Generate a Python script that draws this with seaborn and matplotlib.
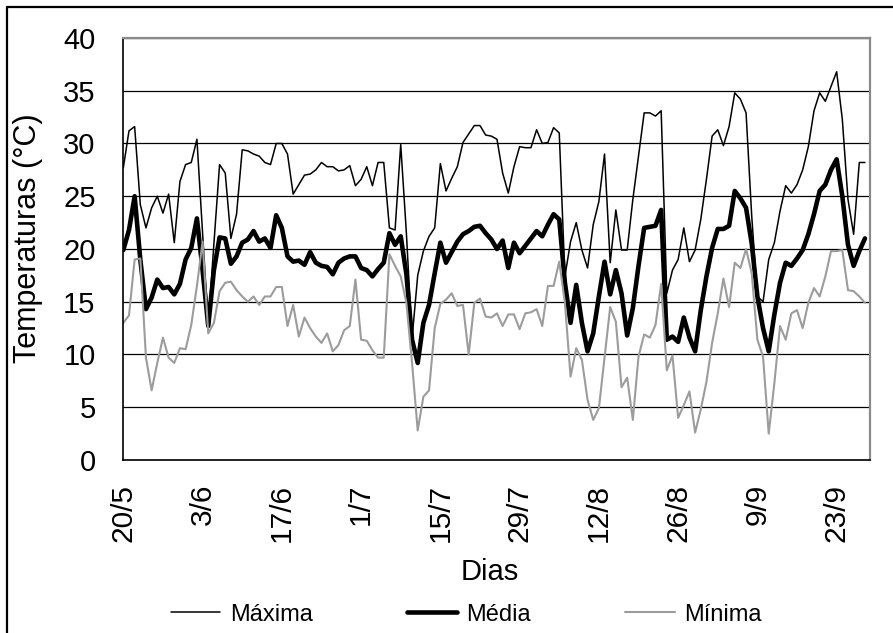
import numpy as np
import pandas as pd
import matplotlib
matplotlib.use("Agg")
import matplotlib.pyplot as plt
import seaborn as sns
from matplotlib.lines import Line2D

# daily temperatures, 20/5 to 28/9
maxima = [27.7, 31.2, 31.6, 24.2, 22.0, 23.9, 25.0, 23.4, 25.2, 20.6, 26.4, 28.0, 28.2, 30.4, 21.5,
          12.8, 20.5, 28.0, 27.2, 21.0, 23.3, 29.4, 29.3, 29.0, 28.8, 28.2, 28.0, 30.0, 30.0, 29.0,
          25.2, 26.1, 27.0, 27.1, 27.5, 28.2, 27.8, 27.8, 27.4, 27.5, 27.9, 26.0, 26.6, 27.8, 26.0,
          28.2, 28.2, 22.0, 21.8, 29.9, 21.5, 11.5, 17.5, 19.8, 21.2, 22.0, 28.1, 25.5, 26.7, 27.8,
          30.1, 30.9, 31.7, 31.7, 30.8, 30.7, 30.4, 27.2, 25.3, 27.8, 29.7, 29.6, 29.6, 31.3, 30.0,
          30.1, 31.5, 31.0, 17.4, 20.7, 22.5, 19.9, 18.2, 22.3, 24.5, 29.0, 18.7, 23.7, 19.9, 19.9,
          24.7, 28.8, 32.9, 32.9, 32.6, 33.1, 15.8, 18.0, 19.0, 22.0, 18.8, 19.9, 22.8, 26.6, 30.7,
          31.3, 29.8, 31.6, 34.8, 34.2, 32.9, 23.1, 15.5, 15.0, 19.0, 20.6, 23.6, 26.0, 25.3, 26.1,
          27.5, 29.7, 33.1, 34.8, 34.0, 35.4, 36.8, 32.3, 24.7, 21.4, 28.2, 28.2]

media = [19.9, 21.8, 25.0, 19.0, 14.3, 15.4, 17.1, 16.3, 16.4, 15.7, 16.7, 19.0, 20.1, 22.9, 18.0,
         12.7, 18.0, 21.1, 21.0, 18.6, 19.3, 20.6, 20.9, 21.7, 20.7, 21.0, 20.1, 23.2, 22.0, 19.3,
         18.8, 18.9, 18.5, 19.7, 18.7, 18.4, 18.3, 17.6, 18.7, 19.1, 19.3, 19.3, 18.2, 18.0, 17.4,
         18.1, 18.7, 21.5, 20.4, 21.2, 17.6, 11.4, 9.2, 13.0, 14.7, 17.7, 20.6, 18.7, 19.7, 20.7,
         21.4, 21.7, 22.1, 22.2, 21.5, 20.9, 20.0, 20.8, 18.2, 20.6, 19.6, 20.3, 21.0, 21.7, 21.2,
         22.3, 23.3, 22.8, 16.8, 13.0, 16.6, 13.0, 10.3, 12.0, 15.5, 18.8, 15.7, 18.0, 15.8, 11.8,
         14.4, 18.4, 22.0, 22.1, 22.2, 23.7, 11.4, 11.7, 11.2, 13.5, 11.6, 10.3, 14.2, 17.4, 20.1,
         21.9, 21.9, 22.2, 25.5, 24.8, 23.9, 20.5, 15.5, 12.5, 10.3, 13.8, 16.8, 18.7, 18.4, 19.1,
         19.9, 21.4, 23.3, 25.5, 26.1, 27.5, 28.5, 25.0, 20.4, 18.4, 19.8, 21.0]

minima = [13.0, 13.7, 19.0, 19.1, 9.7, 6.6, 9.2, 11.6, 9.7, 9.2, 10.6, 10.5, 12.8, 16.5, 20.7,
          12.0, 13.0, 16.0, 16.8, 16.9, 16.1, 15.5, 15.0, 15.5, 14.7, 15.5, 15.5, 16.4, 16.4, 12.7,
          14.7, 11.7, 13.5, 12.5, 11.7, 11.1, 12.0, 10.3, 10.9, 12.3, 12.7, 17.1, 11.4, 11.3, 10.4,
          9.7, 9.7, 19.5, 18.4, 17.4, 14.9, 9.2, 2.8, 6.0, 6.6, 12.5, 14.8, 15.2, 15.8, 14.6,
          14.7, 10.0, 14.9, 15.3, 13.6, 13.5, 13.9, 12.7, 13.8, 13.8, 12.4, 13.9, 14.0, 14.3, 12.7,
          16.5, 16.5, 18.8, 14.9, 7.9, 10.6, 9.5, 5.7, 3.8, 4.9, 9.7, 14.5, 13.1, 6.9, 7.8,
          3.8, 9.8, 11.9, 11.6, 12.8, 16.7, 8.5, 9.9, 4.0, 5.2, 6.5, 2.6, 4.8, 7.4, 11.1,
          13.9, 17.2, 14.5, 18.7, 18.2, 20.0, 17.7, 11.4, 9.8, 2.5, 7.3, 12.7, 11.4, 13.9, 14.2,
          12.5, 14.9, 16.3, 15.5, 17.4, 19.8, 19.8, 19.9, 16.1, 16.0, 15.5, 14.9]

tick_labels = ["20/5", "3/6", "17/6", "1/7", "15/7", "29/7", "12/8", "26/8", "9/9", "23/9"]

dia = np.arange(len(maxima))
df = pd.DataFrame({"dia": dia, "Máxima": maxima, "Média": media, "Mínima": minima})

sns.set_theme(style="white")
plt.rcParams["font.family"] = ["Liberation Sans", "DejaVu Sans"]
plt.rcParams.update({"text.color": "black", "axes.labelcolor": "black",
                     "xtick.color": "black", "ytick.color": "black"})

fig = plt.figure(figsize=(8.93, 6.33), dpi=100)
ax = fig.add_axes([0.1381, 0.2733, 0.8362, 0.6667])

sns.lineplot(data=df, x="dia", y="Máxima", color="black", lw=1.1, label="Máxima", ax=ax)
sns.lineplot(data=df, x="dia", y="Média", color="black", lw=3.3, label="Média", ax=ax)
sns.lineplot(data=df, x="dia", y="Mínima", color="#9c9c9c", lw=1.5, label="Mínima", ax=ax)

ax.set_xlim(0, 131.9)
ax.set_ylim(0, 40)
ax.set_yticks(range(0, 41, 5))
ax.set_xticks(np.arange(len(tick_labels)) * 14)
ax.set_xticklabels(tick_labels, rotation=90)
ax.grid(axis="y", color="black", lw=0.9)
ax.grid(axis="x", visible=False)

ax.tick_params(axis="both", length=7, width=1, color="black", labelcolor="black", direction="out")
ax.tick_params(axis="y", labelsize=21, pad=13)
ax.tick_params(axis="x", labelsize=21.5, pad=10)
for s in ["left", "bottom"]:
    ax.spines[s].set_color("black")
    ax.spines[s].set_linewidth(1.2)
for s in ["top", "right"]:
    ax.spines[s].set_color("#8a8a8a")
    ax.spines[s].set_linewidth(1.6)

ax.set_xlabel("")
ax.set_ylabel("")
fig.text(0.5487, 0.0964, "Dias", fontsize=21, ha="center", va="center", color="black")
fig.text(0.0314, 0.624, "Temperaturas (°C)", fontsize=22, rotation=90, ha="center", va="center",
         color="black")

handles, labels = ax.get_legend_handles_labels()
ax.get_legend().remove()
leg = fig.legend(handles, labels, loc="center", bbox_to_anchor=(0.522, 0.029), ncol=3,
                 frameon=False, fontsize=17, handlelength=2.1, columnspacing=4.0, handletextpad=0.4)
for t in leg.get_texts():
    t.set_color("black")

# outer chart border (top and left only visible)
fig.add_artist(Line2D([0.0078, 1.0], [0.989, 0.989], color="black", lw=1.6))
fig.add_artist(Line2D([0.0078, 0.0078], [0.0, 0.989], color="black", lw=1.6))

fig.savefig("out.png", dpi=100)
